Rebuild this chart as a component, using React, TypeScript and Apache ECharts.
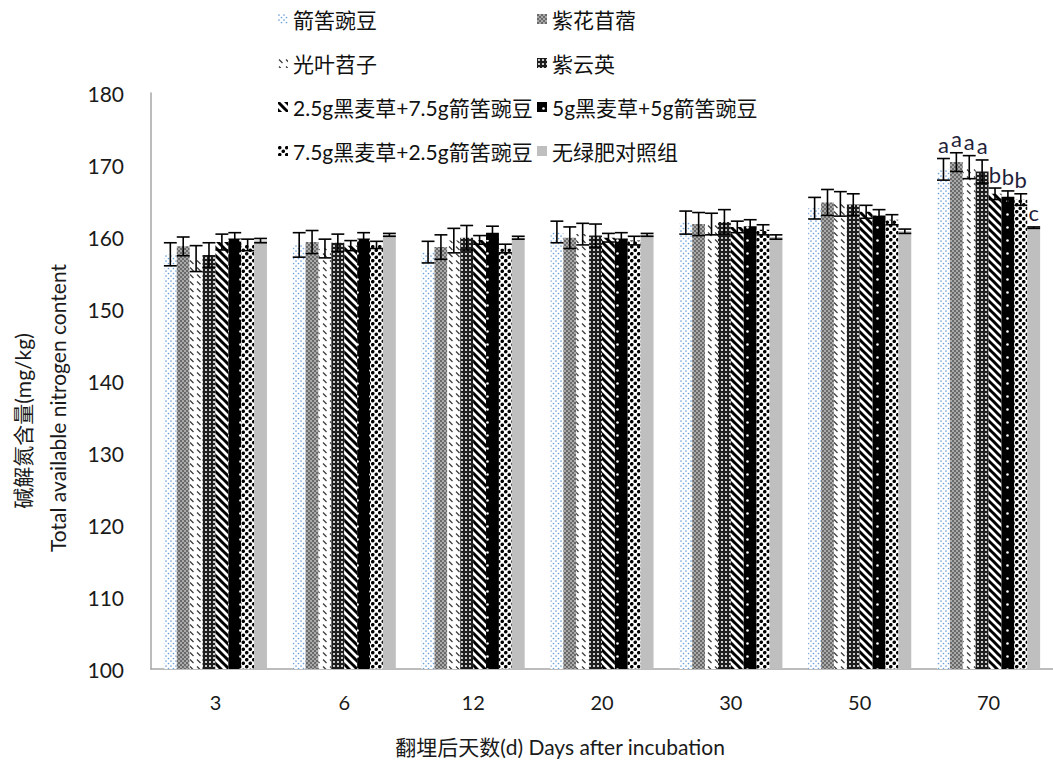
import React, { useEffect, useRef } from 'react';
import * as echarts from 'echarts';

// Days after incubation (categories)
const days = ['3', '6', '12', '20', '30', '50', '70'];

// Treatments, in legend order
const treatments = [
  '箭筈豌豆',
  '紫花苜蓿',
  '光叶苕子',
  '紫云英',
  '2.5g黑麦草+7.5g箭筈豌豆',
  '5g黑麦草+5g箭筈豌豆',
  '7.5g黑麦草+2.5g箭筈豌豆',
  '无绿肥对照组',
];

// Total available nitrogen (mg/kg) and standard errors per treatment
const vetch = [157.6, 158.9, 157.9, 160.7, 162.0, 164.0, 169.4];
const vetchErr = [1.6, 1.7, 1.5, 1.5, 1.6, 1.5, 1.5];
const alfalfa = [158.7, 159.3, 158.6, 159.9, 161.8, 164.8, 170.4];
const alfalfaErr = [1.3, 1.6, 1.7, 1.5, 1.6, 1.8, 1.3];
const hairyVetch = [157.0, 158.4, 159.5, 160.4, 161.8, 164.6, 169.7];
const hairyVetchErr = [1.8, 1.3, 1.7, 1.5, 1.5, 1.7, 1.6];
const milkVetch = [157.5, 159.2, 159.9, 160.2, 162.1, 164.5, 169.1];
const milkVetchErr = [1.7, 1.2, 1.7, 1.6, 1.7, 1.5, 1.6];
const rye25Vetch75 = [159.3, 158.8, 159.6, 159.9, 161.4, 163.5, 166.0];
const rye25Vetch75Err = [1.1, 0.7, 0.6, 0.6, 0.8, 0.9, 0.8];
const rye5Vetch5 = [159.8, 159.8, 160.6, 159.8, 161.5, 163.0, 165.6];
const rye5Vetch5Err = [0.8, 0.8, 0.9, 0.8, 0.9, 0.8, 0.8];
const rye75Vetch25 = [158.9, 158.9, 158.4, 159.5, 161.0, 162.4, 165.2];
const rye75Vetch25Err = [0.8, 0.5, 0.6, 0.6, 0.7, 0.7, 0.8];
const control = [159.5, 160.3, 159.9, 160.3, 160.0, 160.8, 161.3];
const controlErr = [0.3, 0.2, 0.2, 0.2, 0.3, 0.3, 0.1];

// Significance letters at day 70
const day70Letters = ['a', 'a', 'a', 'a', 'b', 'b', 'b', 'c'];

// Value axis range
const yMin = 100;
const yMax = 180;
const yStep = 10;

const seriesValues = [vetch, alfalfa, hairyVetch, milkVetch, rye25Vetch75, rye5Vetch5, rye75Vetch25, control];
const seriesErrors = [vetchErr, alfalfaErr, hairyVetchErr, milkVetchErr, rye25Vetch75Err, rye5Vetch5Err, rye75Vetch25Err, controlErr];

const FONT = 'Lato, "Noto Sans CJK SC", sans-serif';

function tile(w: number, h: number, draw: (ctx: CanvasRenderingContext2D) => void) {
  const c = document.createElement('canvas');
  c.width = w;
  c.height = h;
  const ctx = c.getContext('2d') as CanvasRenderingContext2D;
  draw(ctx);
  return { image: c, repeat: 'repeat' };
}

function dot(ctx: CanvasRenderingContext2D, x: number, y: number, r: number) {
  ctx.beginPath();
  ctx.arc(x, y, r, 0, Math.PI * 2);
  ctx.fill();
}

function makeFills(): any[] {
  // light blue dots on white
  const blueDots = tile(5, 5, (ctx) => {
    ctx.fillStyle = '#fff';
    ctx.fillRect(0, 0, 5, 5);
    ctx.fillStyle = '#6d9fd8';
    dot(ctx, 1, 1, 0.85);
    dot(ctx, 3.5, 3.5, 0.85);
  });
  // grey checker
  const greyChecker = tile(4, 4, (ctx) => {
    ctx.fillStyle = '#a9a9a9';
    ctx.fillRect(0, 0, 4, 4);
    ctx.fillStyle = '#6a6a6a';
    ctx.fillRect(0, 0, 2, 2);
    ctx.fillRect(2, 2, 2, 2);
  });
  // short diagonal dashes on white
  const dashes = tile(7, 7, (ctx) => {
    ctx.fillStyle = '#fff';
    ctx.fillRect(0, 0, 7, 7);
    ctx.strokeStyle = '#3a3a3a';
    ctx.lineWidth = 1.3;
    ctx.beginPath();
    ctx.moveTo(1, 1.5);
    ctx.lineTo(4.5, 5);
    ctx.stroke();
  });
  // dark checker
  const darkChecker = tile(4, 4, (ctx) => {
    ctx.fillStyle = '#1e1e1e';
    ctx.fillRect(0, 0, 4, 4);
    ctx.fillStyle = '#c8c8c8';
    ctx.fillRect(1, 1, 2, 2);
  });
  // wide diagonal stripes
  const stripes = tile(8, 8, (ctx) => {
    ctx.fillStyle = '#fff';
    ctx.fillRect(0, 0, 8, 8);
    ctx.strokeStyle = '#000';
    ctx.lineWidth = 3;
    for (const k of [-8, 0, 8]) {
      ctx.beginPath();
      ctx.moveTo(k - 1, -1);
      ctx.lineTo(k + 9, 9);
      ctx.stroke();
    }
  });
  // black with sparse white dots
  const blackDots = tile(13, 13, (ctx) => {
    ctx.fillStyle = '#000';
    ctx.fillRect(0, 0, 13, 13);
    ctx.fillStyle = '#fff';
    dot(ctx, 6.5, 6.5, 1.3);
  });
  // large black dots on white
  const bigDots = tile(7, 7, (ctx) => {
    ctx.fillStyle = '#fff';
    ctx.fillRect(0, 0, 7, 7);
    ctx.fillStyle = '#000';
    dot(ctx, 1.75, 1.75, 1.8);
    dot(ctx, 5.25, 5.25, 1.8);
  });
  return [blueDots, greyChecker, dashes, darkChecker, stripes, blackDots, bigDots, '#bfbfbf'];
}

export default function App() {
  const ref = useRef<HTMLDivElement>(null);

  useEffect(() => {
    if (!ref.current) return;
    const chart = echarts.init(ref.current, undefined, { renderer: 'svg' });
    const fills = makeFills();
    const n = treatments.length;
    const gapRatio = 0.2;

    const barSeries = treatments.map((name, i) => ({
      name,
      type: 'bar',
      data: seriesValues[i],
      barGap: '0%',
      barCategoryGap: `${gapRatio * 100}%`,
      itemStyle: { color: fills[i] },
      z: 2,
    }));

    const errorSeries = treatments.map((_, i) => ({
      type: 'custom',
      z: 5,
      silent: true,
      encode: { x: 0, y: 1 },
      data: days.map((_d, j) => [j, seriesValues[i][j], seriesErrors[i][j]]),
      renderItem: (params: any, api: any) => {
        const cat = api.value(0);
        const v = api.value(1);
        const e = api.value(2);
        const catW = api.size([1, 0])[0];
        const barW = (catW * (1 - gapRatio)) / n;
        const cx = api.coord([cat, v])[0] + (i - (n - 1) / 2) * barW;
        const yTop = api.coord([cat, v + e])[1];
        const yBot = api.coord([cat, v - e])[1];
        const hw = barW * 0.5;
        const ls = { stroke: '#000', lineWidth: 1.6 };
        const children: any[] = [
          { type: 'line', shape: { x1: cx, y1: yTop, x2: cx, y2: yBot }, style: ls },
          { type: 'line', shape: { x1: cx - hw, y1: yTop, x2: cx + hw, y2: yTop }, style: ls },
          { type: 'line', shape: { x1: cx - hw, y1: yBot, x2: cx + hw, y2: yBot }, style: ls },
        ];
        if (params.dataIndex === days.length - 1) {
          children.push({
            type: 'text',
            style: {
              text: day70Letters[i],
              x: cx,
              y: yTop - 3,
              align: 'center',
              verticalAlign: 'bottom',
              textAlign: 'center',
              textVerticalAlign: 'bottom',
              font: `22px ${FONT}`,
              fill: '#1f1f3a',
            },
          });
        }
        return { type: 'group', children };
      },
    }));

    const legendCommon = {
      orient: 'vertical',
      top: 7,
      padding: 0,
      itemGap: 20,
      itemWidth: 10,
      itemHeight: 10,
      icon: 'rect',
      selectedMode: false,
      textStyle: { fontSize: 21, color: '#111', fontFamily: FONT, lineHeight: 24 },
    };

    chart.setOption({
      animation: false,
      backgroundColor: '#fff',
      textStyle: { fontFamily: FONT },
      legend: [
        { ...legendCommon, left: 278, data: [treatments[0], treatments[2], treatments[4], treatments[6]] },
        { ...legendCommon, left: 537, data: [treatments[1], treatments[3], treatments[5], treatments[7]] },
      ],
      grid: { left: 151, right: 0, top: 93, bottom: 95, containLabel: false, outerBoundsMode: 'none' },
      xAxis: {
        type: 'category',
        data: days,
        axisLine: { lineStyle: { color: '#a6a6a6', width: 1.5 } },
        axisTick: { show: false },
        axisLabel: { margin: 23, fontSize: 20, color: '#1a1a1a', fontFamily: FONT },
      },
      yAxis: {
        type: 'value',
        min: yMin,
        max: yMax,
        interval: yStep,
        axisLine: { show: true, lineStyle: { color: '#a6a6a6', width: 1.5 } },
        axisTick: { show: false },
        splitLine: { show: false },
        axisLabel: { margin: 27, fontSize: 21, color: '#1a1a1a', fontFamily: FONT },
      },
      graphic: [
        {
          type: 'text',
          x: 22,
          y: 421,
          rotation: Math.PI / 2,
          style: {
            text: '碱解氮含量(mg/kg)',
            font: `21px ${FONT}`,
            fill: '#1a1a1a',
            align: 'center',
            verticalAlign: 'middle',
            textAlign: 'center',
            textVerticalAlign: 'middle',
          },
        },
        {
          type: 'text',
          x: 57,
          y: 408,
          rotation: Math.PI / 2,
          style: {
            text: 'Total available nitrogen content',
            font: `21px ${FONT}`,
            fill: '#1a1a1a',
            align: 'center',
            verticalAlign: 'middle',
            textAlign: 'center',
            textVerticalAlign: 'middle',
          },
        },
        {
          type: 'text',
          x: 560,
          y: 746,
          style: {
            text: '翻埋后天数(d) Days after incubation',
            font: `21px ${FONT}`,
            fill: '#1a1a1a',
            align: 'center',
            verticalAlign: 'middle',
            textAlign: 'center',
            textVerticalAlign: 'middle',
          },
        },
      ],
      series: [...barSeries, ...errorSeries],
    } as any);

    return () => chart.dispose();
  }, []);

  return (
    <div
      ref={ref}
      style={{ position: 'absolute', left: 0, top: 0, width: 1053, height: 764, background: '#fff' }}
    />
  );
}
